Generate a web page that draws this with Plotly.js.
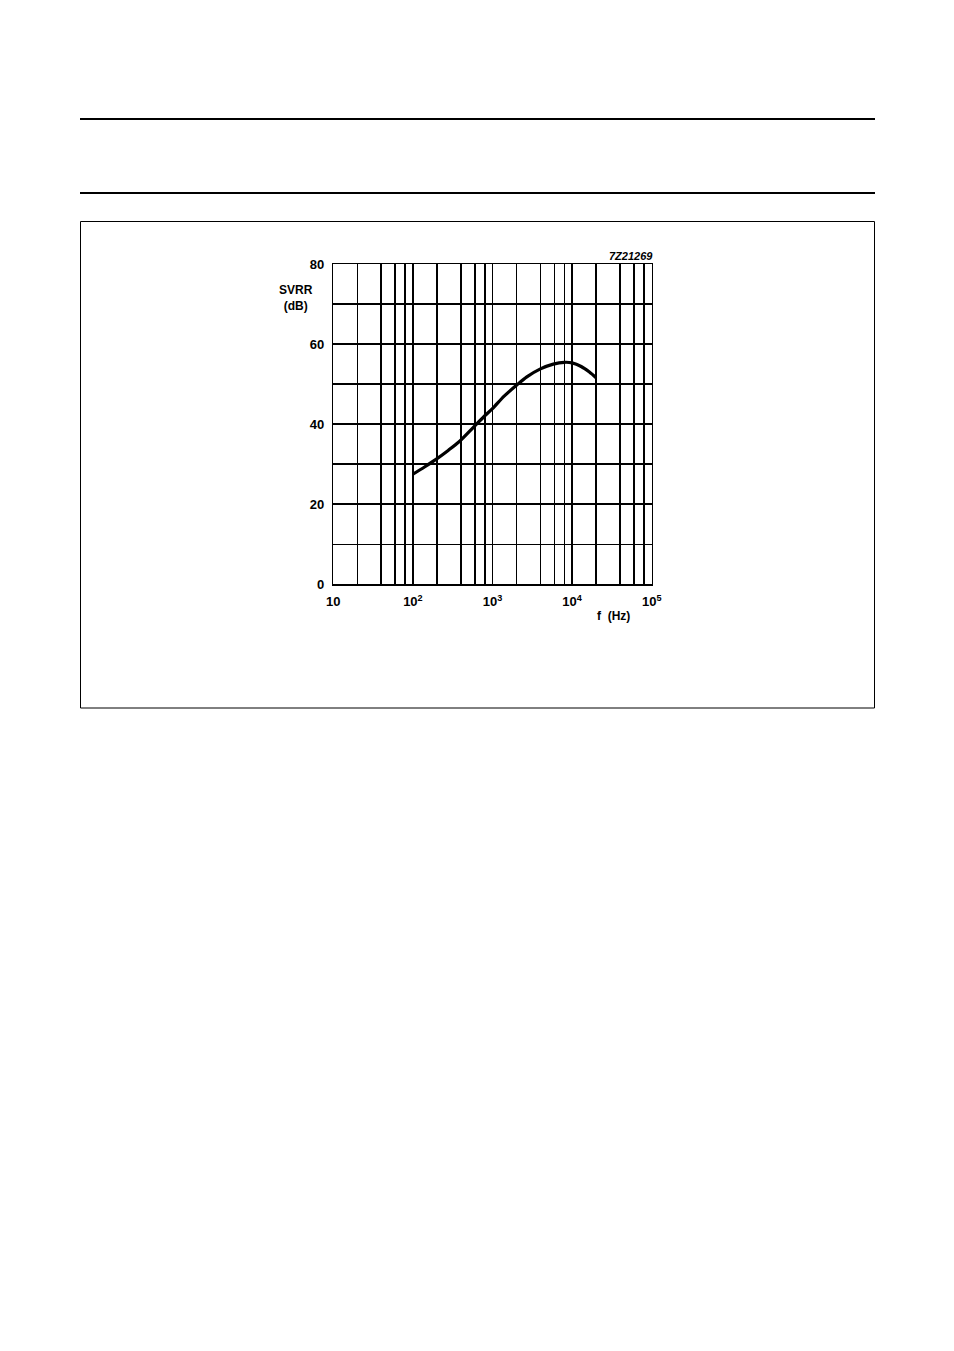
<!DOCTYPE html>
<html>
<head>
<meta charset="utf-8">
<script src="https://cdn.plot.ly/plotly-3.0.1.min.js"></script>
<style>html,body{margin:0;padding:0;background:#fff;}#chart{width:954px;height:1351px;}</style>
</head>
<body>
<div id="chart"></div>
<script>
// Data
const freqHz = [100, 140, 195, 280, 390, 575, 800, 1000, 1400, 2000, 2700, 4000, 5800, 8000, 10000, 13000, 16500, 20000];
const svrrDb = [27.5, 29.3, 31.2, 33.5, 35.8, 39.2, 42.1, 43.9, 47.0, 49.7, 51.8, 53.8, 55.0, 55.45, 55.3, 54.4, 53.0, 51.6];
const xTickVals = [10, 100, 1000, 10000, 100000];
const xTickText = ['10', '10<sup>2</sup>', '10<sup>3</sup>', '10<sup>4</sup>', '10<sup>5</sup>'];
const xMinorVals = [20, 40, 60, 80, 200, 400, 600, 800, 2000, 4000, 6000, 8000, 20000, 40000, 60000, 80000];
const yTickVals = [0, 20, 40, 60, 80];
const yMinorVals = [10, 30, 50, 70];

const W = 954, H = 1351;
const px = v => v / W;
const py = v => 1 - v / H;
const fam = 'Liberation Sans, Arial, sans-serif';

const trace = {
  x: freqHz, y: svrrDb, type: 'scatter', mode: 'lines',
  line: {color: '#000', width: 3.2, shape: 'spline', smoothing: 0.8},
  hoverinfo: 'skip', showlegend: false
};

const gridStyle = {showgrid: true, gridcolor: '#000', gridwidth: 1.5};

const layout = {
  width: W, height: H, autosize: false,
  margin: {l: 0, r: 0, t: 0, b: 0},
  paper_bgcolor: '#fff', plot_bgcolor: '#fff',
  font: {family: fam, size: 12, color: '#000'},
  xaxis: Object.assign({
    type: 'log', range: [1, 5], domain: [px(333.3), px(651.7)],
    tickmode: 'array', tickvals: xTickVals, ticktext: xTickText,
    minor: Object.assign({tickmode: 'array', tickvals: xMinorVals, ticks: ''}, gridStyle),
    showline: true, mirror: true, linecolor: '#000', linewidth: 1.5,
    ticks: '', zeroline: false, fixedrange: true, ticklabelstandoff: 5,
    tickfont: {family: fam, size: 13, color: '#000', weight: 'bold'}
  }, gridStyle),
  yaxis: Object.assign({
    range: [0, 80], domain: [py(584.3), py(264)],
    tickmode: 'array', tickvals: yTickVals,
    minor: Object.assign({tickmode: 'array', tickvals: yMinorVals, ticks: ''}, gridStyle),
    showline: true, mirror: true, linecolor: '#000', linewidth: 1.5,
    ticks: '', zeroline: false, fixedrange: true, ticklabelstandoff: 5,
    tickfont: {family: fam, size: 13, color: '#000', weight: 'bold'}
  }, gridStyle),
  shapes: [
    {type: 'line', xref: 'paper', yref: 'paper', x0: px(80), x1: px(875), y0: py(119), y1: py(119), line: {color: '#000', width: 2}},
    {type: 'line', xref: 'paper', yref: 'paper', x0: px(80), x1: px(875), y0: py(193), y1: py(193), line: {color: '#000', width: 2}},
    {type: 'rect', xref: 'paper', yref: 'paper', x0: px(80.5), x1: px(874.5), y0: py(708), y1: py(221.5), line: {color: '#000', width: 1}}
  ],
  annotations: [
    {xref: 'paper', yref: 'paper', x: px(296), y: py(298), text: '<b>SVRR</b><br><b>(dB)</b>', showarrow: false,
     xanchor: 'center', yanchor: 'middle', align: 'center', font: {family: fam, size: 12, color: '#000'}},
    {xref: 'paper', yref: 'paper', x: px(655), y: py(256), text: '<b><i>7Z21269</i></b>', showarrow: false,
     xanchor: 'right', yanchor: 'middle', font: {family: fam, size: 11, color: '#000'}},
    {xref: 'paper', yref: 'paper', x: px(613), y: py(616), text: '<b>f  (Hz)</b>', showarrow: false,
     xanchor: 'center', yanchor: 'middle', font: {family: fam, size: 12, color: '#000'}}
  ]
};

Plotly.newPlot('chart', [trace], layout, {displayModeBar: false, staticPlot: true});
</script>
</body>
</html>
